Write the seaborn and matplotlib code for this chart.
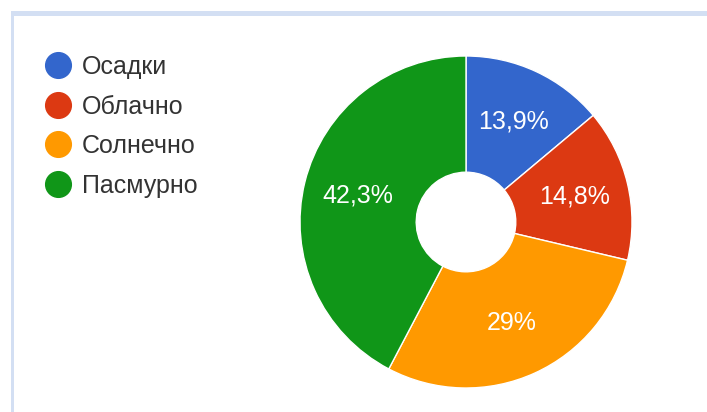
import matplotlib
matplotlib.use("Agg")
import matplotlib.pyplot as plt
import seaborn as sns
from matplotlib.lines import Line2D
from matplotlib.patches import Rectangle

# =========================
# DONNÉES
# =========================
categories = ["Осадки", "Облачно", "Солнечно", "Пасмурно"]
values = [13.9, 14.8, 29.0, 42.3]
value_labels = ["13,9%", "14,8%", "29%", "42,3%"]
colors = ["#3366cc", "#dc3912", "#ff9900", "#109618"]

sns.set_theme(style="white")
plt.rcParams["font.family"] = ["Liberation Sans", "DejaVu Sans"]

W, H = 707, 412
fig = plt.figure(figsize=(W / 100, H / 100), dpi=100)

# cadre bleu clair (haut + gauche)
fig.add_artist(Rectangle((11 / W, 1 - 16 / H), 1, 5 / H, transform=fig.transFigure,
                         color="#d3dff3", lw=0))
fig.add_artist(Rectangle((11 / W, 0), 3 / W, 1 - 11 / H, transform=fig.transFigure,
                         color="#d3dff3", lw=0))

# =========================
# DONUT
# =========================
cx, cy, r = 466, 222, 166
ax = fig.add_axes([(cx - r) / W, (H - cy - r) / H, 2 * r / W, 2 * r / H])
wedges, texts = ax.pie(
    values,
    colors=colors,
    startangle=90,
    counterclock=False,
    labels=value_labels,
    labeldistance=0.67,
    wedgeprops=dict(width=1 - 0.3, edgecolor="white", linewidth=1),
    textprops=dict(color="white", fontsize=18, ha="center", va="center"),
)
ax.set_xlim(-1, 1)
ax.set_ylim(-1, 1)
ax.axis("off")

# =========================
# LÉGENDE
# =========================
handles = [
    Line2D([0], [0], marker="o", linestyle="", markersize=18.5,
           markerfacecolor=c, markeredgecolor=c)
    for c in colors
]
fig.legend(
    handles, categories,
    loc="upper left",
    bbox_to_anchor=(45.5 / W, 1 - 55 / H),
    frameon=False,
    fontsize=18,
    labelcolor="#333333",
    handlelength=1.0,
    handletextpad=0.46,
    labelspacing=0.62,
    borderpad=0,
    borderaxespad=0,
)

fig.savefig("out.png", dpi=100)
